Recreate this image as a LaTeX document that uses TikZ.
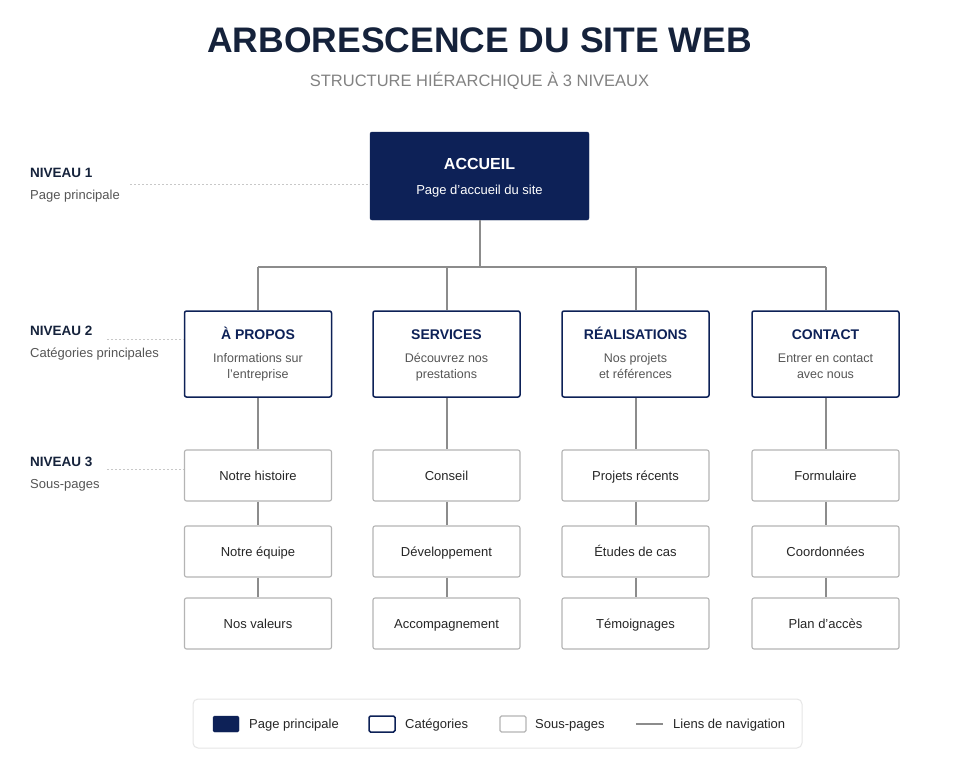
\documentclass[tikz,border=0pt]{standalone}
\usepackage{fontspec}
\setmainfont{Liberation Sans}
\definecolor{navy}{HTML}{0D2157}
\definecolor{titlec}{HTML}{15223B}
\definecolor{subg}{HTML}{828282}
\definecolor{descg}{HTML}{555555}
\definecolor{connc}{HTML}{8C8C8C}
\definecolor{subbord}{HTML}{B4B4B4}
\definecolor{dotc}{HTML}{C8C8C8}
\definecolor{legbord}{HTML}{E6E6E6}
\tikzset{
  fs/.style={font=\fontsize{#1}{#1}\selectfont},
  mainbox/.style={draw=navy,fill=navy,rounded corners=2pt,minimum width=219pt,minimum height=88pt,inner sep=0pt},
  catbox/.style={draw=navy,line width=1.5pt,fill=white,rounded corners=2pt,minimum width=147pt,minimum height=86pt,inner sep=0pt},
  pagebox/.style={draw=subbord,line width=1.1pt,fill=white,rounded corners=2pt,minimum width=147pt,minimum height=51pt,inner sep=0pt},
  conn/.style={draw=connc,line width=2pt},
  leader/.style={draw=dotc,line width=0.9pt,dash pattern=on 2pt off 2pt},
  txt/.style={anchor=base,inner sep=0pt},
}
\begin{document}
\begin{tikzpicture}[x=1pt,y=-1pt]
\useasboundingbox[fill=white] (0,0) rectangle (959,768);
% titles
\node[txt,fs=35.5,text=titlec] (title) at (479.5,53) {\bfseries ARBORESCENCE DU SITE WEB};
\node[txt,fs=16.5,text=subg] (subtitle) at (479.5,87) {STRUCTURE HIÉRARCHIQUE À 3 NIVEAUX};
% level 1
\node[mainbox] (acc) at (479.5,176) {};
\node[txt,fs=16,text=white] (acct) at (479.5,169) {\bfseries ACCUEIL};
\node[txt,fs=13,text=white] (accd) at (479.5,194) {Page d'accueil du site};
\coordinate (bus) at (479.5,267);
% level labels
\node[txt,anchor=base west,fs=13.5,text=titlec] (n1) at (30,177) {\bfseries NIVEAU 1};
\node[txt,anchor=base west,fs=13,text=descg] (n1d) at (30,199) {Page principale};
\node[txt,anchor=base west,fs=13.5,text=titlec] (n2) at (30,335) {\bfseries NIVEAU 2};
\node[txt,anchor=base west,fs=13,text=descg] (n2d) at (30,357) {Catégories principales};
\node[txt,anchor=base west,fs=13.5,text=titlec] (n3) at (30,466) {\bfseries NIVEAU 3};
\node[txt,anchor=base west,fs=13,text=descg] (n3d) at (30,488) {Sous-pages};
% connectors (drawn first, boxes on top)
\foreach \i/\x in {1/258,2/446.5,3/635.5,4/825.5}{
  \coordinate (top\i) at (\x,267);
}
% level 2 and 3
\foreach \i/\x/\t/\a/\b/\p/\q/\r in {
  1/258/{À PROPOS}/{Informations sur}/{l'entreprise}/{Notre histoire}/{Notre équipe}/{Nos valeurs},
  2/446.5/{SERVICES}/{Découvrez nos}/{prestations}/{Conseil}/{Développement}/{Accompagnement},
  3/635.5/{RÉALISATIONS}/{Nos projets}/{et références}/{Projets récents}/{Études de cas}/{Témoignages},
  4/825.5/{CONTACT}/{Entrer en contact}/{avec nous}/{Formulaire}/{Coordonnées}/{Plan d'accès}}{
  \node[catbox] (c\i) at (\x,354) {};
  \node[txt,fs=14,text=navy] (c\i t) at (\x,339) {\bfseries \t};
  \node[txt,fs=12.5,text=descg] (c\i a) at (\x,362) {\a};
  \node[txt,fs=12.5,text=descg] (c\i b) at (\x,378.5) {\b};
  \node[pagebox] (s\i1) at (\x,475.5) {};
  \node[txt,fs=13,text=black!85] (s\i1t) at (\x,480) {\p};
  \node[pagebox] (s\i2) at (\x,551.5) {};
  \node[txt,fs=13,text=black!85] (s\i2t) at (\x,556) {\q};
  \node[pagebox] (s\i3) at (\x,623.5) {};
  \node[txt,fs=13,text=black!85] (s\i3t) at (\x,628) {\r};
}
\draw[conn] (acc.south) -- (bus);
\draw[conn] (c1.north |- bus) -- (c4.north |- bus);
\foreach \i in {1,2,3,4}{
  \draw[conn] (c\i.north |- bus) -- (c\i.north);
  \draw[conn] (c\i.south) -- (s\i1.north);
  \draw[conn] (s\i1.south) -- (s\i2.north);
  \draw[conn] (s\i2.south) -- (s\i3.north);
}
% leaders
\coordinate (d1) at (130,184);
\coordinate (d2) at (107,339);
\coordinate (d3) at (107,469);
\draw[leader] (d1) -- (d1 -| acc.west);
\draw[leader] (d2) -- (d2 -| c1.west);
\draw[leader] (d3) -- (d3 -| s11.west);
% legend
\node[draw=legbord,line width=1pt,fill=white,rounded corners=5pt,minimum width=609pt,minimum height=49pt,inner sep=0pt] (leg) at (497.5,723.5) {};
\node[draw=navy,fill=navy,rounded corners=1.5pt,minimum width=26pt,minimum height=16pt,inner sep=0pt] (lg1) at (226,724) {};
\node[txt,anchor=base west,fs=13,text=black!85] (lg1t) at (249,728.5) {Page principale};
\node[draw=navy,line width=1.5pt,fill=white,rounded corners=1.5pt,minimum width=26pt,minimum height=16pt,inner sep=0pt] (lg2) at (382,724) {};
\node[txt,anchor=base west,fs=13,text=black!85] (lg2t) at (405,728.5) {Catégories};
\node[draw=subbord,line width=1.1pt,fill=white,rounded corners=1.5pt,minimum width=26pt,minimum height=16pt,inner sep=0pt] (lg3) at (513,724) {};
\node[txt,anchor=base west,fs=13,text=black!85] (lg3t) at (535,728.5) {Sous-pages};
\coordinate (lg4a) at (636,724);
\coordinate (lg4b) at (663,724);
\draw[conn] (lg4a) -- (lg4b);
\node[txt,anchor=base west,fs=13,text=black!85] (lg4t) at (673,728.5) {Liens de navigation};
\end{tikzpicture}
\end{document}
